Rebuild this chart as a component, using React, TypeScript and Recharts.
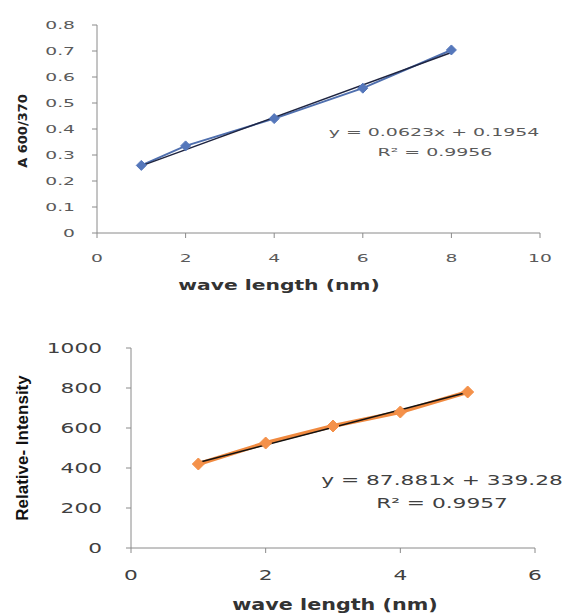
import { LineChart, Line, XAxis, YAxis } from 'recharts'

// top chart: absorbance ratio
const absX = [1, 2, 4, 6, 8]
const absY = [0.26, 0.335, 0.44, 0.557, 0.704]
const absTrend = [
  { x: 1, y: 0.258 },
  { x: 8, y: 0.694 },
]
const absXTicks = [0, 2, 4, 6, 8, 10]
const absYTicks = [0, 0.1, 0.2, 0.3, 0.4, 0.5, 0.6, 0.7, 0.8]

// bottom chart: relative intensity
const intX = [1, 2, 3, 4, 5]
const intY = [420, 525, 610, 680, 780]
const intTrend = [
  { x: 1, y: 427 },
  { x: 5, y: 779 },
]
const intXTicks = [0, 2, 4, 6]
const intYTicks = [0, 200, 400, 600, 800, 1000]

const absData = absX.map((x, i) => ({ x, y: absY[i] }))
const intData = intX.map((x, i) => ({ x, y: intY[i] }))

const AXIS = '#8a8a8a'
const FONT = '"DejaVu Sans", Verdana, sans-serif'

function makeTick(size: number, color: string, anchor: 'end' | 'middle', stretch: number) {
  return (props: any) => {
    const { x, y, payload } = props
    const v = payload.value
    const txt = typeof v === 'number' && v > 0 && v < 1 ? v.toFixed(1) : String(v)
    return (
      <text
        transform={`translate(${x},${y}) scale(${stretch},1)`}
        textAnchor={anchor}
        dominantBaseline="central"
        fontSize={size}
        fontFamily={FONT}
        fill={color}
      >
        {txt}
      </text>
    )
  }
}

function diamond(fill: string, r: number) {
  return (props: any) => {
    const { cx, cy, index } = props
    if (cx == null || cy == null) return <g key={index} />
    return (
      <polygon
        key={index}
        points={`${cx},${cy - r} ${cx + r},${cy} ${cx},${cy + r} ${cx - r},${cy}`}
        fill={fill}
        stroke={fill}
      />
    )
  }
}

const overlay = (extra: React.CSSProperties): React.CSSProperties => ({
  position: 'absolute',
  whiteSpace: 'nowrap',
  fontFamily: FONT,
  lineHeight: 1,
  ...extra,
})

export default function App() {
  return (
    <div style={{ position: 'absolute', left: 0, top: 0, width: 565, height: 616, background: '#fff', overflow: 'hidden' }}>
      <div style={{ position: 'absolute', left: 0, top: 0 }}>
        <LineChart width={565} height={300} margin={{ top: 25, right: 25, left: 0, bottom: 0 }}>
          <XAxis
            type="number"
            dataKey="x"
            domain={[0, 10]}
            ticks={absXTicks}
            allowDuplicatedCategory={false}
            height={67}
            stroke={AXIS}
            tickSize={5}
            tickMargin={20}
            tick={makeTick(11, '#5a5a5a', 'middle', 1.7)}
          />
          <YAxis
            type="number"
            dataKey="y"
            domain={[0, 0.8]}
            ticks={absYTicks}
            width={97}
            stroke={AXIS}
            tickSize={5}
            tickMargin={17}
            tick={makeTick(11, '#5a5a5a', 'end', 1.7)}
          />
          <Line
            data={absData}
            dataKey="y"
            stroke="#4f6fae"
            strokeWidth={2}
            dot={diamond('#5577bb', 5)}
            isAnimationActive={false}
          />
          <Line data={absTrend} dataKey="y" stroke="#1e2440" strokeWidth={1.5} dot={false} isAnimationActive={false} />
        </LineChart>
      </div>

      <div style={{ position: 'absolute', left: 0, top: 300 }}>
        <LineChart width={565} height={316} margin={{ top: 48, right: 30, left: 0, bottom: 0 }}>
          <XAxis
            type="number"
            dataKey="x"
            domain={[0, 6]}
            ticks={intXTicks}
            allowDuplicatedCategory={false}
            height={68}
            stroke={AXIS}
            tickSize={5}
            tickMargin={22}
            tick={makeTick(14, '#404040', 'middle', 1.55)}
          />
          <YAxis
            type="number"
            dataKey="y"
            domain={[0, 1000]}
            ticks={intYTicks}
            width={131}
            stroke={AXIS}
            tickSize={5}
            tickMargin={24}
            tick={makeTick(14, '#404040', 'end', 1.55)}
          />
          <Line
            data={intData}
            dataKey="y"
            stroke="#f08a40"
            strokeWidth={4}
            dot={diamond('#f4914a', 6)}
            isAnimationActive={false}
          />
          <Line data={intTrend} dataKey="y" stroke="#111" strokeWidth={1.5} dot={false} isAnimationActive={false} />
        </LineChart>
      </div>

      {/* axis titles */}
      <div
        style={overlay({
          left: 22,
          top: 131,
          fontSize: 13,
          fontWeight: 'bold',
          color: '#222',
          transform: 'translate(-50%,-50%) rotate(-90deg)',
        })}
      >
        A 600/370
      </div>
      <div
        style={overlay({
          left: 279,
          top: 285,
          fontSize: 14,
          fontWeight: 'bold',
          color: '#333',
          transform: 'translate(-50%,-50%) scaleX(1.45)',
        })}
      >
        wave length (nm)
      </div>
      <div
        style={overlay({
          left: 22,
          top: 448,
          fontSize: 17,
          fontWeight: 'bold',
          color: '#111',
          fontFamily: '"Liberation Sans Narrow", "Liberation Sans", Arial, sans-serif',
          transform: 'translate(-50%,-50%) rotate(-90deg)',
        })}
      >
        Relative- Intensity
      </div>
      <div
        style={overlay({
          left: 335,
          top: 605,
          fontSize: 15,
          fontWeight: 'bold',
          color: '#333',
          transform: 'translate(-50%,-50%) scaleX(1.38)',
        })}
      >
        wave length (nm)
      </div>

      {/* trendline equations */}
      <div style={overlay({ left: 434, top: 132, fontSize: 11, color: '#5a5a5a', transform: 'translate(-50%,-50%) scaleX(1.72)' })}>
        y = 0.0623x + 0.1954
      </div>
      <div style={overlay({ left: 435, top: 152, fontSize: 11, color: '#5a5a5a', transform: 'translate(-50%,-50%) scaleX(1.72)' })}>
        R² = 0.9956
      </div>
      <div style={overlay({ left: 442, top: 480, fontSize: 14, color: '#404040', transform: 'translate(-50%,-50%) scaleX(1.55)' })}>
        y = 87.881x + 339.28
      </div>
      <div style={overlay({ left: 442, top: 503, fontSize: 14, color: '#404040', transform: 'translate(-50%,-50%) scaleX(1.55)' })}>
        R² = 0.9957
      </div>
    </div>
  )
}
